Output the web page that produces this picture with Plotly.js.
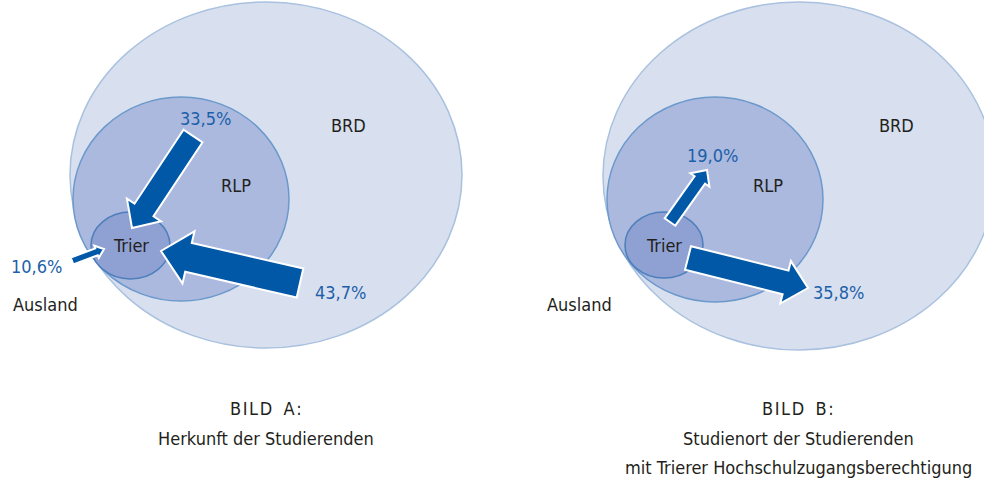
<!DOCTYPE html>
<html><head><meta charset="utf-8">
<script src="https://cdn.plot.ly/plotly-3.0.1.min.js"></script>
<style>html,body{margin:0;padding:0;background:#fff}#chart{width:984px;height:482px}</style>
</head><body><div id="chart"></div>
<script>
// ---- data ----
const panels = ["BILD A:", "BILD B:"];
const panelSubtitles = [["Herkunft der Studierenden"], ["Studienort der Studierenden", "mit Trierer Hochschulzugangsberechtigung"]];
const regions = ["BRD", "RLP", "Trier"];
const outsideLabel = "Ausland";
const flowLabelsA = ["33,5%", "43,7%", "10,6%"];
const flowValuesA = [33.5, 43.7, 10.6];
const flowLabelsB = ["19,0%", "35,8%"];
const flowValuesB = [19.0, 35.8];

// ---- layout geometry (pixel space) ----
const FONT = '"DejaVu Sans Condensed","Liberation Sans Narrow","Roboto",sans-serif';
const DARK = '#231f20', BLUE = '#1c5fa9', ARROW = '#0058a6';
const ellStyles = {
  BRD: {fill: '#d8e0ef', line: '#a9c1df'},
  RLP: {fill: '#abb9de', line: '#6c99cb'},
  Trier: {fill: '#8fa1d2', line: '#4d7fbc'}
};
const ellGeom = [
  {BRD: [70, 2, 462, 348], RLP: [73, 97, 289, 301], Trier: [91, 212, 170, 279]},
  {BRD: [603, 2, 995, 350], RLP: [607, 97, 823, 302], Trier: [625, 212, 703, 278]}
];
const regionLabelPos = [
  {BRD: [348, 125], RLP: [236, 185], Trier: [131, 245]},
  {BRD: [896, 125], RLP: [768, 185], Trier: [664, 245]}
];
const arrowsGeomA = [ {tail: [193, 136], tip: [132, 228], lab: [205, 118]},
                      {tail: [300, 283], tip: [161, 251], lab: [340, 292]},
                      {tail: [72, 261],  tip: [104, 249], lab: [36, 266]} ];
const arrowsGeomB = [ {tail: [670, 222], tip: [707, 170], lab: [712, 155]},
                      {tail: [688, 258], tip: [808, 288], lab: [838, 292]} ];
const ausPos = [[45, 304], [579, 304]];
const titlePos = [[266, 408], [798, 408]];
const subPos = [[266, 438], [798, 438]];
const subLineGap = 29;

const shapes = [], annotations = [];
function ann(x, y, text, color, size, extra) {
  annotations.push(Object.assign({x, y, xref: 'x', yref: 'y', text, showarrow: false,
    font: {family: FONT, size, color}, xanchor: 'center', yanchor: 'middle'}, extra || {}));
}
function arrowPath(tail, tip, value) {
  const w = value * 0.68, hw = w * 1.8, hl = Math.max(w * 0.95, 8);
  const dx = tip[0] - tail[0], dy = tip[1] - tail[1], L = Math.hypot(dx, dy);
  const ux = dx / L, uy = dy / L, px = -uy, py = ux;
  const bx = tip[0] - ux * hl, by = tip[1] - uy * hl;
  const pts = [
    [tail[0] + px * w / 2, tail[1] + py * w / 2],
    [bx + px * w / 2, by + py * w / 2],
    [bx + px * hw / 2, by + py * hw / 2],
    tip,
    [bx - px * hw / 2, by - py * hw / 2],
    [bx - px * w / 2, by - py * w / 2],
    [tail[0] - px * w / 2, tail[1] - py * w / 2]
  ];
  return 'M' + pts.map(p => p[0].toFixed(1) + ',' + p[1].toFixed(1)).join(' L') + ' Z';
}

ellGeom.forEach((g, i) => {
  regions.forEach(r => {
    const [x0, y0, x1, y1] = g[r];
    shapes.push({type: 'circle', xref: 'x', yref: 'y', x0, y0, x1, y1,
      fillcolor: ellStyles[r].fill, line: {color: ellStyles[r].line, width: 1.5}, layer: 'above'});
  });
  regions.forEach(r => ann(regionLabelPos[i][r][0], regionLabelPos[i][r][1], r, DARK, 18));
  ann(ausPos[i][0], ausPos[i][1], outsideLabel, DARK, 18);
  ann(titlePos[i][0], titlePos[i][1], panels[i].split('').join('\u200A').replace(/ /g, '\u2002'), DARK, 18);
  panelSubtitles[i].forEach((line, k) => ann(subPos[i][0], subPos[i][1] + k * subLineGap, line, DARK, 18));
});

[[flowValuesA, flowLabelsA, arrowsGeomA], [flowValuesB, flowLabelsB, arrowsGeomB]].forEach(([vals, labs, geom]) => {
  vals.forEach((v, k) => {
    shapes.push({type: 'path', xref: 'x', yref: 'y', path: arrowPath(geom[k].tail, geom[k].tip, v),
      fillcolor: ARROW, line: {color: '#ffffff', width: 2}, layer: 'above'});
    ann(geom[k].lab[0], geom[k].lab[1], labs[k], BLUE, 18);
  });
});

const layout = {
  width: 984, height: 482, margin: {l: 0, r: 0, t: 0, b: 0},
  paper_bgcolor: '#ffffff', plot_bgcolor: '#ffffff', showlegend: false,
  xaxis: {range: [0, 984], visible: false, fixedrange: true},
  yaxis: {range: [482, 0], visible: false, fixedrange: true},
  shapes, annotations
};
Plotly.newPlot('chart', [{x: [0], y: [0], mode: 'markers', marker: {opacity: 0}, hoverinfo: 'skip'}], layout, {staticPlot: true});
</script></body></html>
